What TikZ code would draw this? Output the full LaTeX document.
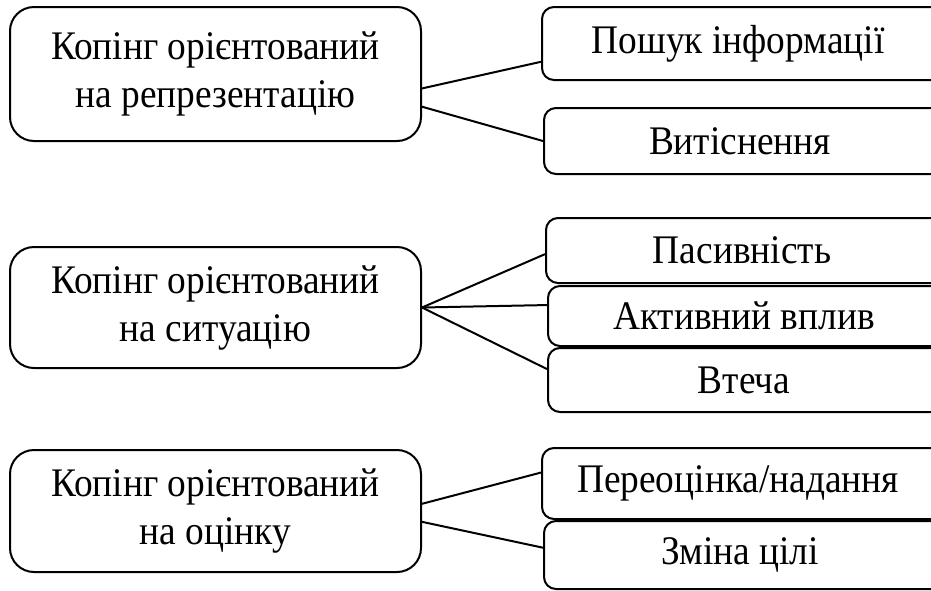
\documentclass[tikz,border=0pt]{standalone}
\usepackage{fontspec}
\setmainfont{Liberation Serif}
\usepackage{tikz}
\usetikzlibrary{positioning,calc}
\newcommand{\narrow}[1]{\scalebox{0.92}[1]{#1}}

\begin{document}
\begin{tikzpicture}[x=0.5pt, y=-0.5pt,
    mainbox/.style={draw, line width=1pt, rounded corners=12pt, inner sep=0pt,
        minimum width=205.5pt, align=center, font=\fontsize{20.3}{24}\selectfont},
    subbox/.style={draw, line width=1pt, rounded corners=6pt, inner sep=0pt,
        minimum width=208pt, font=\fontsize{20.3}{24}\selectfont},
    link/.style={line width=1pt}]
    \useasboundingbox (0,0) rectangle (931,590);

    % Left boxes: kinds of coping
    \node[mainbox, minimum height=67pt] (repr) at (215.5,74) {\narrow{Копінг орієнтований}\\\narrow{на репрезентацію}};
    \node[mainbox, minimum height=60.5pt] (sit) at (215.5,307.5) {\narrow{Копінг орієнтований}\\\narrow{на ситуацію}};
    \node[mainbox, minimum height=61pt] (eval) at (215.5,511) {\narrow{Копінг орієнтований}\\\narrow{на оцінку}};

    % Right boxes: strategies (right edges run off the page)
    \node[subbox, minimum height=36.5pt] (search) at (750,43.5) {\hspace*{-12pt}\narrow{Пошук інформації}};
    \node[subbox, minimum height=33pt] (repress) at (752,141) {\hspace*{-12pt}\raisebox{-2pt}{\narrow{Витіснення}}};
    \node[subbox, minimum height=32.5pt] (passive) at (754,250.5) {\hspace*{-12pt}\raisebox{-2pt}{\narrow{Пасивність}}};
    \node[subbox, minimum height=30pt] (active) at (756,316) {\hspace*{-12pt}\raisebox{-3pt}{\narrow{Активний вплив}}};
    \node[subbox, minimum height=32pt] (escape) at (756,380) {\hspace*{-12pt}\raisebox{-2pt}{\narrow{Втеча}}};
    \node[subbox, minimum height=35.5pt] (reval) at (750,483.5) {\hspace*{-12pt}\narrow{Переоцінка/надання}};
    \node[subbox, minimum height=34pt] (goal) at (752,555) {\hspace*{-12pt}\narrow{Зміна цілі}};

    % Connectors from each kind to its strategies
    \draw[link] (repr.-4) -- (search.185);
    \draw[link] (repr.-9.4) -- (repress.west);
    \draw[link] (sit.east) -- (passive.181);
    \draw[link] (sit.east) -- (active.177.3);
    \draw[link] (sit.east) -- (escape.177);
    \draw[link] (eval.2.5) -- (reval.177);
    \draw[link] (eval.-3.1) -- (goal.178);
\end{tikzpicture}
\end{document}
